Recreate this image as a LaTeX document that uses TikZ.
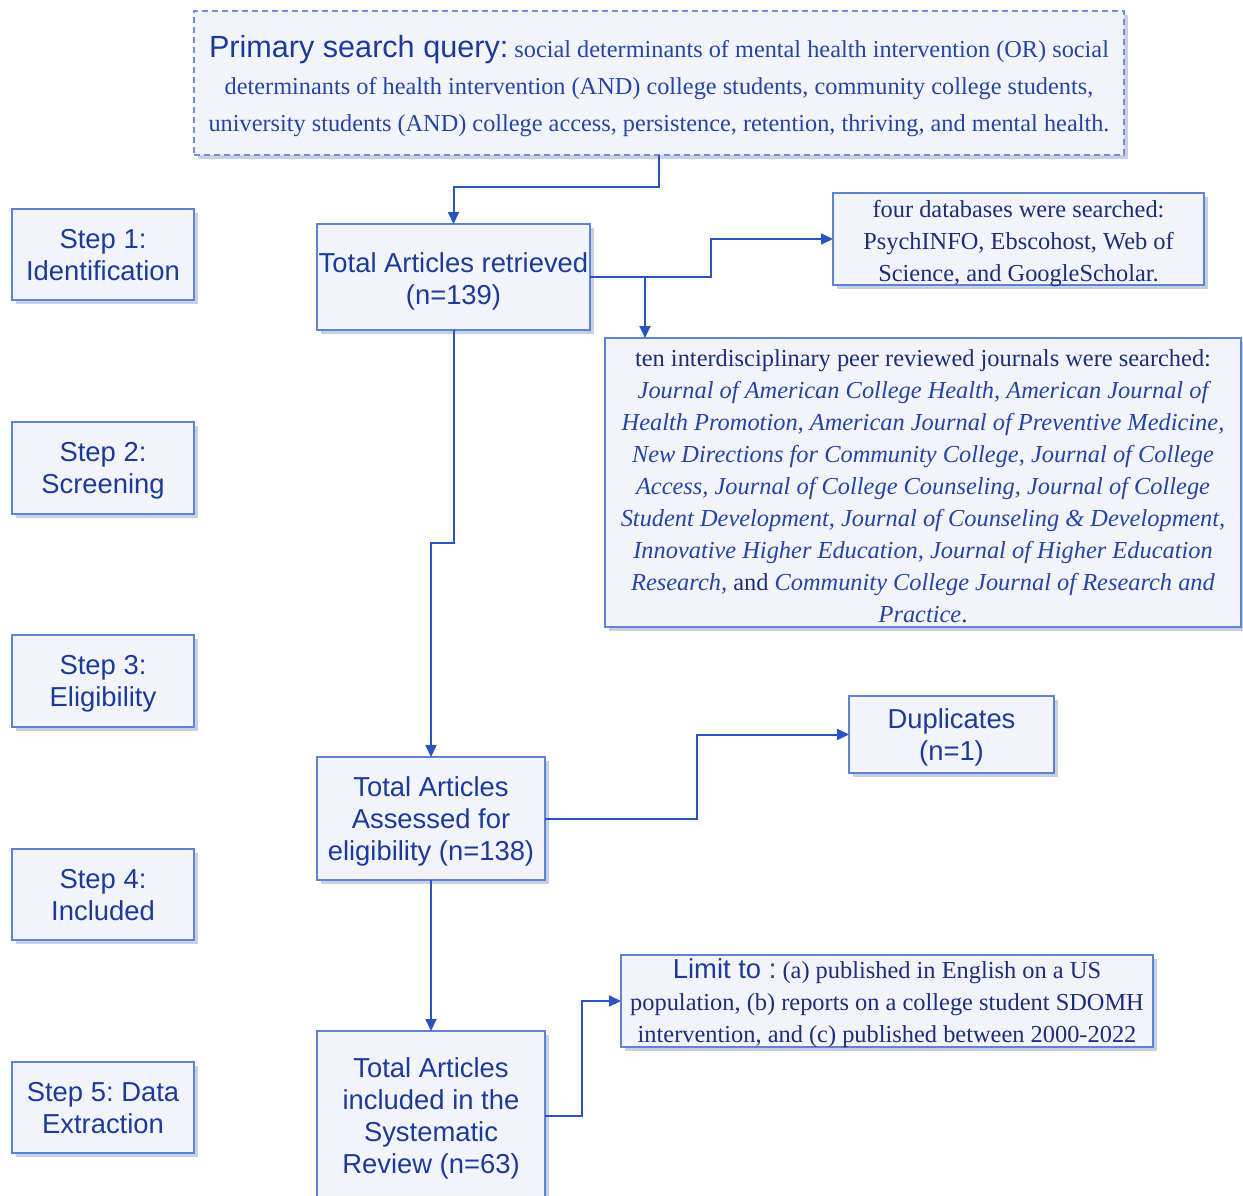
\documentclass[tikz,border=0pt]{standalone}
\usepackage{fontspec}
\setmainfont{Liberation Serif}
\setsansfont{Liberation Sans}
\usetikzlibrary{shadows,arrows.meta}
\definecolor{boxfill}{HTML}{F2F4FA}
\definecolor{boxdraw}{HTML}{5F83D4}
\definecolor{dashc}{HTML}{6F90D6}
\definecolor{sanstxt}{HTML}{1A3B9A}
\definecolor{seriftxt}{HTML}{1C2D7A}
\definecolor{italtxt}{HTML}{2345A5}
\definecolor{arrowc}{HTML}{2A53C0}
\definecolor{shadowc}{HTML}{C7CFE2}
\frenchspacing
\begin{document}
\begin{tikzpicture}[x=1pt,y=-1pt,
  base/.style={draw=boxdraw, line width=2pt, fill=boxfill, inner sep=0pt, outer sep=0pt, align=center,
    general shadow={fill=shadowc, shadow xshift=4pt, shadow yshift=-4pt}},
  sbox/.style={base, text=sanstxt, font=\sffamily\fontsize{27.4}{32}\selectfont\frenchspacing},
  tbox/.style={base, text=seriftxt, font=\fontsize{24.4}{32}\selectfont\frenchspacing},
  arr/.style={draw=arrowc, line width=2pt, -{Triangle[length=12pt,width=11pt]}}]
\clip (0,0) rectangle (1243,1196);
\useasboundingbox (0,0) rectangle (1243,1196);
\fill[white] (0,0) rectangle (1243,1196);

% top query box
\node[base, draw=dashc, line width=2.4pt, dash pattern=on 6pt off 4pt, minimum width=930pt, minimum height=144pt,
  text=italtxt, font=\fontsize{24.3}{37}\selectfont\frenchspacing] (q) at (659,83)
  {{\sffamily\fontsize{30.6}{37}\selectfont\color{sanstxt}Primary search query:} social determinants of mental health intervention (OR) social\\
   determinants of health intervention (AND) college students, community college students,\\
   \smash{university students (AND) college access, persistence, retention, thriving, and mental health.}};

% step boxes
\node[sbox, minimum width=182pt, minimum height=91pt] (s1) at (103,254.5) {Step 1:\\\smash{Identification}};
\node[sbox, minimum width=182pt, minimum height=92pt] (s2) at (103,468) {Step 2:\\\smash{Screening}};
\node[sbox, minimum width=182pt, minimum height=92pt] (s3) at (103,681) {Step 3:\\\smash{Eligibility}};
\node[sbox, minimum width=182pt, minimum height=91pt] (s4) at (103,894.5) {Step 4:\\\smash{Included}};
\node[sbox, minimum width=182pt, minimum height=91pt] (s5) at (103,1107.5) {Step 5: Data\\\smash{Extraction}};

% main flow
\node[sbox, minimum width=273pt, minimum height=106pt] (tar) at (453.5,277) {\rule{0pt}{22pt}Total Articles retrieved\\\smash{(n=139)}};
\node[tbox, minimum width=371pt, minimum height=92pt] (db) at (1018.5,239)
  {\rule{0pt}{21pt}four databases were searched:\\PsychINFO, Ebscohost, Web of\\\smash{Science, and GoogleScholar.}};
\node[tbox, minimum width=636pt, minimum height=289pt] (jr) at (923,482.5)
  {\rule{0pt}{23pt}ten interdisciplinary peer reviewed journals were searched:\\
   \color{italtxt}\itshape Journal of American College Health, American Journal of\\
   \color{italtxt}\itshape Health Promotion, American Journal of Preventive Medicine,\\
   \color{italtxt}\itshape New Directions for Community College, Journal of College\\
   \color{italtxt}\itshape Access, Journal of College Counseling, Journal of College\\
   \color{italtxt}\itshape Student Development, Journal of Counseling \& Development,\\
   \color{italtxt}\itshape Innovative Higher Education, Journal of Higher Education\\
   {\color{italtxt}\itshape Research,} and {\color{italtxt}\itshape Community College Journal of Research and}\\
   \smash{{\color{italtxt}\itshape Practice}.}};
\node[sbox, minimum width=228pt, minimum height=123pt] (ae) at (431,818.5) {Total Articles\\Assessed for\\\smash{eligibility (n=138)}};
\node[sbox, minimum width=205pt, minimum height=77pt] (dup) at (951.5,734.5) {Duplicates\\\smash{(n=1)}};
\node[sbox, minimum width=228pt, minimum height=169pt] (fin) at (431,1115.5) {Total Articles\\included in the\\Systematic\\\smash{Review (n=63)}};
\node[tbox, minimum width=532pt, minimum height=92pt] (lim) at (887,1001)
  {{\sffamily\fontsize{27.4}{32}\selectfont\color{sanstxt}Limit to :} (a) published in English on a US\\
   population, (b) reports on a college student SDOMH\\
   \smash{intervention, and (c) published between 2000-2022}};

% connectors
\draw[arr] (q.south) -- ++(0,32) -| (tar.north);
\draw[arr] (tar.east) -- ++(121,0) |- (db.west);
\draw[arr] ([xshift=55pt]tar.east) -- ([xshift=55pt]tar.east |- jr.north);
\draw[arr] (tar.south) -- ++(0,213) -| (ae.north);
\draw[arr] (ae.east) -- ++(152,0) |- (dup.west);
\draw[arr] (ae.south) -- (fin.north);
\draw[arr] (fin.east) -- ++(37,0) |- (lim.west);
\end{tikzpicture}
\end{document}
